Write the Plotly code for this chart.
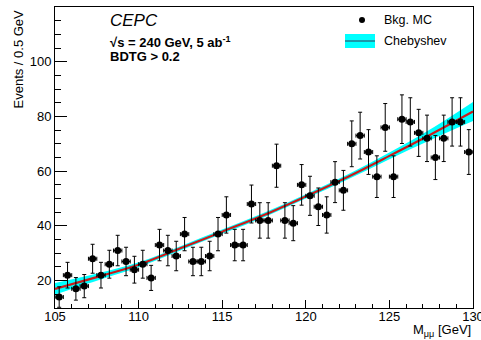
import numpy as np
import plotly.graph_objects as go

# --- data ---
bin_centers = [105.25, 105.75, 106.25, 106.75, 107.25, 107.75, 108.25, 108.75, 109.25, 109.75,
               110.25, 110.75, 111.25, 111.75, 112.25, 112.75, 113.25, 113.75, 114.25, 114.75,
               115.25, 115.75, 116.25, 116.75, 117.25, 117.75, 118.25, 118.75, 119.25, 119.75,
               120.25, 120.75, 121.25, 121.75, 122.25, 122.75, 123.25, 123.75, 124.25, 124.75,
               125.25, 125.75, 126.25, 126.75, 127.25, 127.75, 128.25, 128.75, 129.25, 129.75]
counts = [14, 22, 17, 18, 28, 22, 26, 31, 27, 24,
          26, 21, 33, 31, 29, 37, 27, 27, 29, 37,
          44, 33, 33, 48, 42, 42, 62, 42, 41, 55,
          51, 47, 44, 56, 53, 70, 73, 67, 58, 76,
          58, 79, 78, 74, 72, 65, 72, 78, 78, 67]
errors = list(np.sqrt(np.array(counts, dtype=float)))

fit_x = [105, 107.5, 110, 112.5, 115, 117.5, 120, 122.5, 125, 127.5, 130]
fit_y = [17.0, 21.3, 25.8, 31.8, 37.9, 44.0, 50.8, 57.9, 65.6, 73.5, 81.8]
band_half = [2.1, 1.3, 0.9, 0.8, 0.8, 0.8, 0.8, 0.9, 1.2, 2.0, 3.5]

x_ticks = [105, 110, 115, 120, 125, 130]
y_ticks = [20, 40, 60, 80, 100]

FONT = "Liberation Sans, Arial, Helvetica, sans-serif"

upper = [y + h for y, h in zip(fit_y, band_half)]
lower = [y - h for y, h in zip(fit_y, band_half)]

fig = go.Figure()
fig.add_trace(go.Scatter(x=fit_x, y=upper, mode="lines", line=dict(width=0, shape="spline", color="#00ffff"),
                         showlegend=False, hoverinfo="skip"))
fig.add_trace(go.Scatter(x=fit_x, y=lower, mode="lines", line=dict(width=0, shape="spline", color="#00ffff"),
                         fill="tonexty", fillcolor="#00ffff", showlegend=False, hoverinfo="skip"))
fig.add_trace(go.Scatter(x=fit_x, y=fit_y, mode="lines", line=dict(width=2.2, shape="spline", color="#cc1a1a"),
                         showlegend=False))
fig.add_trace(go.Scatter(
    x=bin_centers, y=counts, mode="markers",
    marker=dict(color="black", size=7),
    error_y=dict(type="data", array=errors, color="black", thickness=1, width=2),
    error_x=dict(type="constant", value=0.25, color="black", thickness=1, width=2),
    showlegend=False))

L, R, T, B = 55, 8, 7, 32
W, H = 481, 340
pw, ph = W - L - R, H - T - B

def px(xp):
    return (xp - L) / pw

def py(yp):
    return (H - B - yp) / ph

shapes = [
    dict(type="rect", xref="paper", yref="paper", x0=px(345), x1=px(375), y0=py(48), y1=py(34),
         fillcolor="#00ffff", line=dict(width=0)),
    dict(type="line", xref="paper", yref="paper", x0=px(345), x1=px(375), y0=py(41), y1=py(41),
         line=dict(color="#333355", width=1)),
    dict(type="circle", xref="paper", yref="paper", xsizemode="pixel", ysizemode="pixel",
         xanchor=px(362), yanchor=py(20), x0=-3, x1=3, y0=-3, y1=3,
         fillcolor="black", line=dict(width=0)),
]

annotations = [
    dict(text="<i>CEPC</i>", x=px(108), y=py(21), xref="paper", yref="paper", xanchor="left", yanchor="middle",
         showarrow=False, font=dict(size=17, family=FONT, color="black")),
    dict(text="<b>√s = 240 GeV, 5 ab<sup>-1</sup></b>", x=px(108), y=py(42), xref="paper", yref="paper",
         xanchor="left", yanchor="middle", showarrow=False, font=dict(size=13, family=FONT, color="black")),
    dict(text="<b>BDTG > 0.2</b>", x=px(108), y=py(57), xref="paper", yref="paper",
         xanchor="left", yanchor="middle", showarrow=False, font=dict(size=13, family=FONT, color="black")),
    dict(text="Bkg. MC", x=px(382), y=py(20), xref="paper", yref="paper", xanchor="left", yanchor="middle",
         showarrow=False, font=dict(size=12.5, family=FONT, color="black")),
    dict(text="Chebyshev", x=px(382), y=py(41), xref="paper", yref="paper", xanchor="left", yanchor="middle",
         showarrow=False, font=dict(size=12.5, family=FONT, color="black")),
    dict(text="Events / 0.5 GeV", textangle=-90, x=px(18), y=py(8), xref="paper", yref="paper",
         xanchor="center", yanchor="top", showarrow=False, font=dict(size=13, family=FONT, color="black")),
    dict(text="M<sub>μμ</sub> [GeV]", x=px(473), y=py(330), xref="paper", yref="paper",
         xanchor="right", yanchor="middle", showarrow=False, font=dict(size=13, family=FONT, color="black")),
]

fig.update_layout(
    width=W, height=H,
    margin=dict(l=L, r=R, t=T, b=B, autoexpand=False),
    paper_bgcolor="white", plot_bgcolor="white",
    font=dict(family=FONT, size=13, color="black"),
    shapes=shapes, annotations=annotations,
    showlegend=False,
    xaxis=dict(range=[105, 130], tickmode="array", tickvals=x_ticks, ticktext=[str(v) for v in x_ticks],
               ticks="inside", ticklen=8, tickcolor="black", showline=True, linecolor="black", mirror=True,
               showgrid=False, zeroline=False, ticklabeloverflow="allow", automargin=False,
               ticklabelstandoff=-4,
               minor=dict(tickmode="linear", tick0=105, dtick=1, ticks="inside", ticklen=4, tickcolor="black",
                          showgrid=False),
               tickfont=dict(size=13)),
    yaxis=dict(range=[10, 120], tickmode="array", tickvals=y_ticks, ticktext=[str(v) for v in y_ticks],
               ticks="inside", ticklen=12, tickcolor="black", showline=True, linecolor="black", mirror=True,
               showgrid=False, zeroline=False, automargin=False,
               minor=dict(tickmode="linear", tick0=0, dtick=5, ticks="inside", ticklen=6, tickcolor="black",
                          showgrid=False),
               tickfont=dict(size=13)),
)

fig.write_html("out.html")
